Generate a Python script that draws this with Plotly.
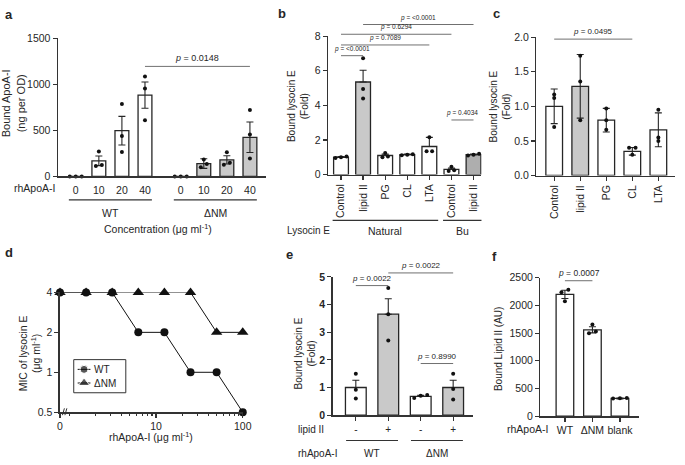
import math
import plotly.graph_objects as go

W, H = 685, 465
def PX(x): return x / W
def PY(y): return 1 - y / H

FONT = "Liberation Sans, Arial, sans-serif"
INK = "#262626"
LINE = "#333333"
SIG = "#707070"
GRAY = "#c9c9c9"
GRAY2 = "#aeaeae"

# ---------------- data ----------------
# a: bound ApoA-I
a_conc = ["0", "10", "20", "40"]
a_groups = ["WT", "ΔNM"]
a_wt_mean = [0, 170, 497, 882]
a_wt_err = [0, 52, 155, 142]
a_wt_pts = [[0, 0, 0], [270, 125, 115], [785, 440, 265], [1085, 955, 610]]
a_nm_mean = [0, 140, 180, 425]
a_nm_err = [0, 52, 45, 165]
a_nm_pts = [[0, 0, 0], [185, 135, 100], [262, 150, 128], [720, 455, 195]]
a_yticks = [0, 500, 1000, 1500]
a_p = "0.0148"

# b: bound lysocin E (natural / Bu)
b_cats = ["Control", "lipid II", "PG", "CL", "LTA", "Control", "lipid II"]
b_groups = [("Natural", 5), ("Bu", 2)]
b_mean = [1.0, 5.35, 1.1, 1.15, 1.62, 0.30, 1.15]
b_err = [0.04, 0.68, 0.08, 0.03, 0.53, 0.08, 0.04]
b_pts = [[1.05, 1.0, 0.95], [6.72, 4.95, 4.4], [1.25, 1.05, 1.0], [1.18, 1.15, 1.12],
         [2.16, 1.35, 1.35], [0.45, 0.25, 0.2], [1.2, 1.15, 1.1]]
b_fill = ["white", GRAY, "white", "white", "white", "white", GRAY2]
b_yticks = [0, 2, 4, 6, 8]
b_sig = [(1, 6, "<0.0001"), (0, 5, "0.6294"), (0, 4, "0.7089"), (0, 1, "<0.0001"), (5, 6, "0.4034")]

# c: bound lysocin E
c_cats = ["Control", "lipid II", "PG", "CL", "LTA"]
c_mean = [1.0, 1.29, 0.80, 0.35, 0.66]
c_err = [0.25, 0.46, 0.17, 0.055, 0.245]
c_pts = [[1.17, 1.12, 0.70], [1.73, 1.36, 0.80], [0.97, 0.80, 0.66], [0.40, 0.40, 0.30], [0.95, 0.55, 0.50]]
c_fill = ["white", GRAY, "white", "white", "white"]
c_yticks = [0, 0.5, 1.0, 1.5, 2.0]
c_sig = [(0, 3, "0.0495")]

# d: MIC of lysocin E
d_conc = [0, 1.5625, 3.125, 6.25, 12.5, 25, 50, 100]
d_series = ["WT", "ΔNM"]
d_wt = [4, 4, 4, 2, 2, 1, 1, 0.5]
d_nm = [4, 4, 4, 4, 4, 4, 2, 2]
d_yticks = [0.5, 1, 2, 4]
d_xticks = [0, 10, 100]

# e: bound lysocin E +/- lipid II
e_lipid = ["-", "+", "-", "+"]
e_strain = ["WT", "ΔNM"]
e_mean = [1.0, 3.65, 0.68, 1.0]
e_err = [0.26, 0.56, 0.04, 0.26]
e_pts = [[1.5, 0.92, 0.6], [4.6, 3.65, 2.7], [0.73, 0.70, 0.62], [1.5, 0.95, 0.57]]
e_fill = ["white", GRAY, "white", GRAY]
e_yticks = [0, 1, 2, 3, 4, 5]
e_sig = [(0, 1, "0.0022"), (1, 3, "0.0022"), (2, 3, "0.8990")]

# f: bound lipid II
f_cats = ["WT", "ΔNM", "blank"]
f_mean = [2200, 1560, 320]
f_err = [75, 55, 8]
f_pts = [[2285, 2240, 2075], [1655, 1530, 1500], [330, 325, 320]]
f_yticks = [0, 500, 1000, 1500, 2000, 2500]
f_sig = [(0, 1, "0.0007")]

# ---------------- helpers ----------------
fig = go.Figure()
layout_axes = {}

def names(k):
    s = "" if k == 1 else str(k)
    return "xaxis" + s, "yaxis" + s, "x" + s, "y" + s

def spread(vals, tol, step):
    idx = sorted(range(len(vals)), key=lambda i: vals[i])
    clusters, cur = [], [idx[0]]
    for i in idx[1:]:
        if abs(vals[i] - vals[cur[-1]]) <= tol:
            cur.append(i)
        else:
            clusters.append(cur)
            cur = [i]
    clusters.append(cur)
    off = [0.0] * len(vals)
    for cl in clusters:
        k = len(cl)
        for j, i in enumerate(cl):
            off[i] = (j - (k - 1) / 2) * step
    return off

def bars(k, pos, mean, err, pts, fills, width, both, tol, step, dot=4):
    _, _, xr, yr = names(k)
    fig.add_trace(go.Bar(
        x=pos, y=mean, width=width, xaxis=xr, yaxis=yr, showlegend=False, hoverinfo="skip",
        marker=dict(color=fills, line=dict(color=INK, width=1.3)),
        error_y=dict(type="data", array=err, arrayminus=err if both else [0] * len(err),
                     symmetric=False, color=INK, thickness=1.1, width=3.5)))
    xs, ys = [], []
    for p, vals in zip(pos, pts):
        off = spread(vals, tol, step)
        xs += [p + o for o in off]
        ys += vals
    fig.add_trace(go.Scatter(x=xs, y=ys, mode="markers", xaxis=xr, yaxis=yr, showlegend=False,
                             hoverinfo="skip", cliponaxis=False,
                             marker=dict(size=dot, color="#111111", line=dict(width=0))))

def axis_base(size=10):
    f = dict(family=FONT, size=size, color=INK)
    return dict(showline=True, linecolor=LINE, linewidth=1.5, showgrid=False, zeroline=False,
                ticks="outside", tickcolor=LINE, tickwidth=1.2, ticklen=4, tickfont=f,
                fixedrange=True)

def set_axes(k, xbox, ybox, xrange, yrange, xtickvals, xticktext, ytickvals, xextra=None, yextra=None,
             size=10, lw=1.5):
    xa, ya, xr, yr = names(k)
    xd = axis_base(size)
    xd.update(domain=[PX(xbox[0]), PX(xbox[1])], range=xrange, anchor=yr,
              tickmode="array", tickvals=xtickvals, ticktext=xticktext, linewidth=lw)
    yd = axis_base(size)
    yd.update(domain=[PY(ybox[1]), PY(ybox[0])], range=yrange, anchor=xr,
              tickmode="array", tickvals=ytickvals, linewidth=lw)
    if xextra:
        xd.update(xextra)
    if yextra:
        yd.update(yextra)
    layout_axes[xa] = xd
    layout_axes[ya] = yd

def txt(x, y, s, size=10, xanchor="center", yanchor="middle", angle=0, color=INK, xref="paper"):
    fig.add_annotation(x=PX(x) if xref == "paper" else x, xref=xref, y=PY(y), yref="paper",
                       text=s, showarrow=False, xanchor=xanchor, yanchor=yanchor, textangle=angle,
                       font=dict(family=FONT, size=size, color=color))

def seg(x0, x1, y, xref="paper", color=LINE, width=1.2):
    fig.add_shape(type="line", xref=xref, yref="paper",
                  x0=PX(x0) if xref == "paper" else x0, x1=PX(x1) if xref == "paper" else x1,
                  y0=PY(y), y1=PY(y), line=dict(color=color, width=width))

def sig(k, pos, i0, i1, p, yline, size, color=SIG):
    _, _, xr, _ = names(k)
    seg(pos[i0], pos[i1], yline, xref=xr, color=color, width=1)
    txt((pos[i0] + pos[i1]) / 2, yline - 1, "<i>p</i> = " + p, size=size, yanchor="bottom",
        color=INK, xref=xr)

# ---------------- panel a ----------------
gap = 0.55
a_wt_pos = [i for i in range(len(a_conc))]
a_nm_pos = [i + len(a_conc) + gap for i in range(len(a_conc))]
a_pos = a_wt_pos + a_nm_pos
bars(1, a_wt_pos, a_wt_mean, a_wt_err, a_wt_pts, ["white"] * 4, 0.6, True, 40, 0.26)
bars(1, a_nm_pos, a_nm_mean, a_nm_err, a_nm_pts, [GRAY] * 4, 0.6, True, 40, 0.26)
set_axes(1, (56, 268), (33, 175), [-0.77, 8.26], [0, 1500], a_pos, a_conc * 2, a_yticks,
         xextra=dict(tickcolor="rgba(0,0,0,0)", ticklen=3), size=10.5)
txt(6, 9, "<b>a</b>", size=13)
txt(11, 100, "Bound ApoA-I<br>(ng per OD)", size=11, angle=-90)
txt(55, 187, "rhApoA-I", size=10.5, xanchor="right")
for grp, gpos in zip(a_groups, [a_wt_pos, a_nm_pos]):
    seg(gpos[0] - 0.3, gpos[-1] + 0.3, 199, xref="x", width=1.4)
    txt((gpos[0] + gpos[-1]) / 2, 212, grp, size=10.5, xref="x")
txt(158, 228, "Concentration (μg ml<sup>-1</sup>)", size=10.5)
sig(1, a_pos, 3, 7, a_p, 62, 9)

# ---------------- panel b ----------------
b_pos = list(range(len(b_cats)))
bars(2, b_pos, b_mean, b_err, b_pts, b_fill, 0.67, False, 0.08, 0.25)
set_axes(2, (331, 487), (31, 173), [-0.58, 6.36], [0, 8], b_pos, b_cats, b_yticks,
         xextra=dict(tickangle=-90), size=10.5)
txt(284, 8, "<b>b</b>", size=13)
txt(301, 103, "Bound lysocin E<br>(Fold)", size=10, angle=-90)
txt(311, 230, "Lysocin E", size=10)
start = 0
for grp, n in b_groups:
    gp = b_pos[start:start + n]
    seg(gp[0] - 0.38, gp[-1] + 0.4, 220, xref="x2", width=1.2)
    txt((gp[0] + gp[-1]) / 2, 231, grp, size=10.5, xref="x2")
    start += n
for (i0, i1, p), yl in zip(b_sig, [19, 29, 40, 51, 117]):
    sig(2, b_pos, i0, i1, p, yl, 6.5)

# ---------------- panel c ----------------
c_pos = list(range(len(c_cats)))
bars(3, c_pos, c_mean, c_err, c_pts, c_fill, 0.64, True, 0.03, 0.25)
set_axes(3, (543, 684), (32, 174), [-0.68, 4.64], [0, 2], c_pos, c_cats, c_yticks,
         xextra=dict(tickangle=-90), yextra=dict(tickformat=".1f"), size=10.5)
txt(502, 8, "<b>c</b>", size=13)
txt(506, 103, "Bound lysocin E<br>(Fold)", size=10, angle=-90)
for (i0, i1, p), yl in zip(c_sig, [34]):
    sig(3, c_pos, i0, i1, p, yl, 8)

# ---------------- panel d ----------------
zero_pos = d_conc[1] / 2
d_x = [c if c > 0 else zero_pos for c in d_conc]
d_symbols = ["circle", "triangle-up"]
d_sizes = [8, 10]
for name, vals, sym, sz in zip(d_series, [d_wt, d_nm], d_symbols, d_sizes):
    fig.add_trace(go.Scatter(x=d_x, y=vals, mode="lines+markers", name=name, xaxis="x4", yaxis="y4",
                             cliponaxis=False, showlegend=False, hoverinfo="skip",
                             line=dict(color="#111111", width=1),
                             marker=dict(symbol=sym, size=sz, color="#111111")))
minor = [m * 10 ** e for e in (0, 1) for m in range(1, 10) if zero_pos < m * 10 ** e < 100 and m * 10 ** e != 10]
set_axes(4, (58, 244), (294, 417), [math.log10(zero_pos), math.log10(100)],
         [math.log10(0.5), math.log10(4)],
         [t if t > 0 else zero_pos for t in d_xticks], [str(t) for t in d_xticks], d_yticks,
         xextra=dict(type="log", minor=dict(ticks="outside", ticklen=2, tickcolor=LINE,
                                            tickmode="array", tickvals=minor)),
         yextra=dict(type="log", ticktext=[("%g" % t) for t in d_yticks]), size=10.5)
txt(6, 253, "<b>d</b>", size=13)
txt(27, 357, "MIC of lysocin E<br>(μg ml<sup>-1</sup>)", size=10.5, angle=-90)
txt(151, 442, "rhApoA-I (μg ml<sup>-1</sup>)", size=10.5)
for dx in (0, 2.5):
    fig.add_shape(type="line", xref="paper", yref="paper", x0=PX(60.5 + dx), x1=PX(62.5 + dx),
                  y0=PY(420), y1=PY(413), line=dict(color=LINE, width=1))

# legend of d (drawn as a small boxed key on its own hidden axes, pixel units)
LBOX = (72, 125, 363, 397)
layout_axes["xaxis7"] = dict(domain=[PX(LBOX[0]), PX(LBOX[1])], range=[LBOX[0], LBOX[1]], visible=False,
                             fixedrange=True, anchor="y7")
layout_axes["yaxis7"] = dict(domain=[PY(LBOX[3]), PY(LBOX[2])], range=[LBOX[3], LBOX[2]], visible=False,
                             fixedrange=True, anchor="x7")
fig.add_shape(type="rect", xref="paper", yref="paper", x0=PX(LBOX[0]), x1=PX(LBOX[1]),
              y0=PY(LBOX[3]), y1=PY(LBOX[2]), line=dict(color=LINE, width=1), fillcolor="white",
              layer="below")
for row, (name, sym, sz) in enumerate(zip(d_series, d_symbols, d_sizes)):
    yy = 373 + 14 * row
    fig.add_trace(go.Scatter(x=[76, 82.5, 89], y=[yy] * 3, mode="lines+markers", xaxis="x7", yaxis="y7",
                             showlegend=False, hoverinfo="skip", cliponaxis=False,
                             line=dict(color="#111111", width=1),
                             marker=dict(symbol=sym, size=[0, sz, 0], color="#111111")))
    txt(91, yy, name, size=10, xanchor="left")

# ---------------- panel e ----------------
e_pos = list(range(len(e_lipid)))
bars(5, e_pos, e_mean, e_err, e_pts, e_fill, 0.64, False, 0.08, 0.2)
set_axes(5, (336, 478), (278, 420), [-0.70, 3.6], [0, 5], e_pos, e_lipid, e_yticks,
         yextra=dict(tickfont=dict(family=FONT, size=10.5, color=INK, weight="bold")),
         size=10, lw=1.8)
txt(292, 255, "<b>e</b>", size=13)
txt(307, 357, "Bound lysocin E<br>(Fold)", size=10, angle=-90)
txt(298, 435, "lipid II", size=10, xanchor="left")
txt(298, 459, "rhApoA-I", size=10, xanchor="left")
for g, grp in enumerate(e_strain):
    gp = e_pos[2 * g:2 * g + 2]
    seg(gp[0] - 0.3, gp[-1] + 0.3, 446, xref="x5", width=1.2)
    txt((gp[0] + gp[-1]) / 2, 459, grp, size=10, xref="x5")
for (i0, i1, p), yl in zip(e_sig, [287, 274, 367]):
    sig(5, e_pos, i0, i1, p, yl, 8)

# ---------------- panel f ----------------
f_pos = list(range(len(f_cats)))
bars(6, f_pos, f_mean, f_err, f_pts, ["white"] * 3, 0.64, True, 60, 0.25)
set_axes(6, (547, 647), (279, 421), [-0.89, 2.68], [0, 2500], f_pos, f_cats, f_yticks, size=10.5)
txt(500, 257, "<b>f</b>", size=13)
txt(505, 352, "Bound Lipid II (AU)", size=10, angle=-90)
txt(534, 434, "rhApoA-I", size=10.5)
for (i0, i1, p), yl in zip(f_sig, [282]):
    sig(6, f_pos, i0, i1, p, yl, 8.5)

fig.update_layout(
    width=W, height=H, margin=dict(l=0, r=0, t=0, b=0, pad=0),
    paper_bgcolor="white", plot_bgcolor="rgba(0,0,0,0)", bargap=0,
    font=dict(family=FONT, size=10, color=INK),
    showlegend=False,
    **layout_axes)

fig.write_html("out.html", config={"displayModeBar": False, "staticPlot": True},
               post_script="document.body.style.margin='0';document.body.style.overflow='hidden';")
